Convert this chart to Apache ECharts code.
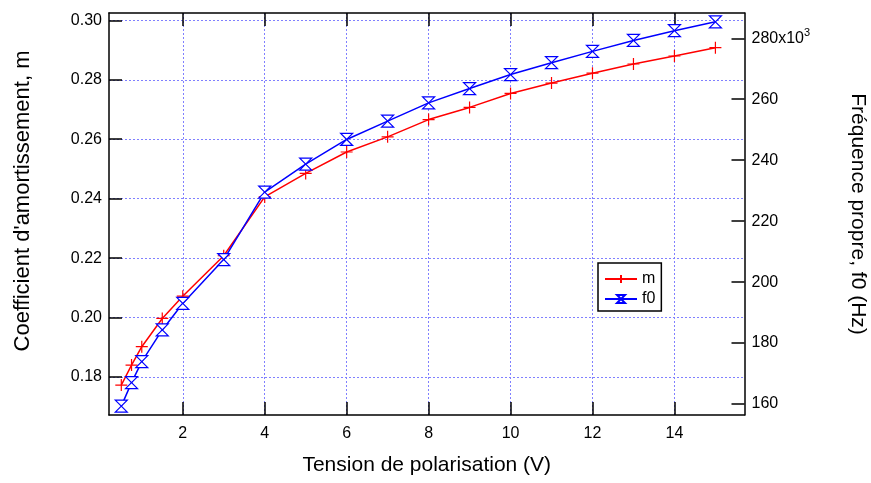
<!DOCTYPE html>
<html>
<head>
<meta charset="utf-8">
<script src="https://cdn.jsdelivr.net/npm/echarts@6/dist/echarts.min.js"></script>
<style>
html,body{margin:0;padding:0;background:#fff;}
#chart{width:871px;height:483px;}
</style>
</head>
<body>
<div id="chart"></div>
<script>
// Data
const voltage = [0.5, 0.75, 1, 1.5, 2, 3, 4, 5, 6, 7, 8, 9, 10, 11, 12, 13, 14, 15];
const mValues = [0.1773, 0.1840, 0.1902, 0.1997, 0.2072, 0.2208, 0.2406, 0.2485, 0.2557, 0.2608, 0.2666, 0.2707, 0.2754, 0.2789, 0.2822, 0.2853, 0.2880, 0.2908];
const f0Values = [159300, 167000, 173900, 184300, 193000, 207400, 229500, 238700, 246800, 252800, 258800, 263500, 268100, 272000, 275700, 279300, 282500, 285400];
const xTicks = [2, 4, 6, 8, 10, 12, 14];
const mTicks = [0.18, 0.20, 0.22, 0.24, 0.26, 0.28, 0.30];
const f0Ticks = [160000, 180000, 200000, 220000, 240000, 260000, 280000];

const FONT = 'Liberation Sans, Arial, sans-serif';
const gridColor = '#8080ff';

const chart = echarts.init(document.getElementById('chart'), null, {renderer: 'canvas'});

const axisLine = {show: true, onZero: false, lineStyle: {color: '#000', width: 1.5}};

const option = {
  animation: false,
  backgroundColor: '#fff',
  grid: {left: 109, right: 126.5, top: 13, bottom: 68, containLabel: false, outerBoundsMode: 'none'},
  legend: {
    orient: 'vertical',
    left: 598, top: 263,
    padding: [8, 6, 4, 6],
    itemWidth: 32, itemHeight: 10, itemGap: 4,
    borderColor: '#000', borderWidth: 1.5,
    backgroundColor: '#fff',
    textStyle: {fontFamily: FONT, fontSize: 16, color: '#000'},
    data: ['m', 'f0']
  },
  xAxis: [{
    type: 'value', position: 'bottom',
    min: 0.2, max: 15.71,
    name: 'Tension de polarisation (V)',
    nameLocation: 'middle', nameGap: 40,
    nameTextStyle: {fontFamily: FONT, fontSize: 21, color: '#000'},
    axisLine: axisLine,
    axisTick: {show: true, inside: true, length: 13, customValues: xTicks, lineStyle: {color: '#000', width: 1.5}},
    axisLabel: {show: true, customValues: xTicks, margin: 11, fontFamily: FONT, fontSize: 16, color: '#000'},
    splitLine: {show: true, lineStyle: {color: gridColor, type: [2, 2], width: 1}}
  }, {
    type: 'value', position: 'top',
    min: 0.2, max: 15.71,
    axisLine: axisLine,
    axisTick: {show: true, inside: true, length: 13, customValues: xTicks, lineStyle: {color: '#000', width: 1.5}},
    axisLabel: {show: false, customValues: xTicks},
    splitLine: {show: false}
  }],
  yAxis: [{
    type: 'value', position: 'left',
    min: 0.16722, max: 0.30246,
    name: "Coefficient d'amortissement, m",
    nameLocation: 'middle', nameGap: 75, nameRotate: 90,
    nameTextStyle: {fontFamily: FONT, fontSize: 22, color: '#000', padding: [0, 0, 0, 26]},
    axisLine: axisLine,
    axisTick: {show: true, inside: true, length: 13, customValues: mTicks, lineStyle: {color: '#000', width: 1.5}},
    axisLabel: {show: true, customValues: mTicks, margin: 7, fontFamily: FONT, fontSize: 16, color: '#000',
      formatter: v => v.toFixed(2)},
    splitLine: {show: true, lineStyle: {color: gridColor, type: [2, 2], width: 1}}
  }, {
    type: 'value', position: 'right',
    min: 156390, max: 288300,
    name: 'Fréquence propre, f0 (Hz)',
    nameLocation: 'middle', nameGap: 103, nameRotate: -90,
    nameTextStyle: {fontFamily: FONT, fontSize: 21, color: '#000'},
    axisLine: axisLine,
    axisTick: {show: true, inside: true, length: 13, customValues: f0Ticks, lineStyle: {color: '#000', width: 1.5}},
    axisLabel: {show: true, customValues: f0Ticks, margin: 7, fontFamily: FONT, fontSize: 16, color: '#000',
      formatter: v => (v === 280000 ? '{a|280x10}{s|3}' : String(Math.round(v / 1000))),
      rich: {
        a: {fontFamily: FONT, fontSize: 16, color: '#000'},
        s: {fontFamily: FONT, fontSize: 11, color: '#000', verticalAlign: 'top', padding: [0, 0, 10, 0]}
      }
    },
    splitLine: {show: false}
  }],
  series: [{
    name: 'm', type: 'line',
    xAxisIndex: 0, yAxisIndex: 0,
    data: voltage.map((x, i) => [x, mValues[i]]),
    symbol: 'path://M5,0 L5,10 M0,5 L10,5',
    symbolSize: 12,
    showAllSymbol: true,
    lineStyle: {color: '#ff0000', width: 1.5},
    itemStyle: {color: '#ff0000', borderColor: '#ff0000', borderWidth: 1.2}
  }, {
    name: 'f0', type: 'line',
    xAxisIndex: 0, yAxisIndex: 1,
    data: voltage.map((x, i) => [x, f0Values[i]]),
    symbol: 'path://M0,0 L10,0 L0,10 L10,10 Z',
    symbolSize: 12,
    showAllSymbol: true,
    lineStyle: {color: '#0000ff', width: 1.5},
    itemStyle: {color: '#ffffff', borderColor: '#0000ff', borderWidth: 1.2}
  }]
};
chart.setOption(option);
</script>
</body>
</html>
